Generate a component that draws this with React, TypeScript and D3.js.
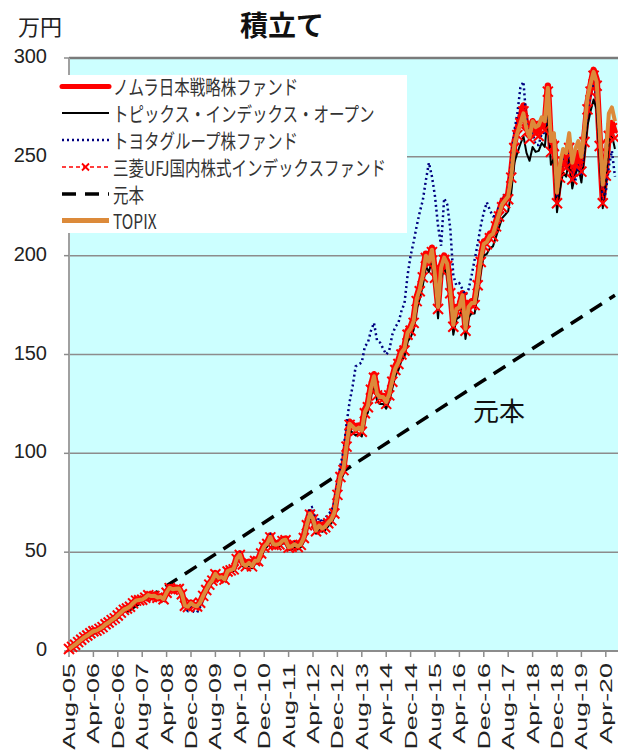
import React from "react";
import * as d3 from "d3";

// Monthly accumulated value (万円) of a 1万円/month plan, Aug-05 .. Jul-20
const tickLabels = [
  "Aug-05", "Apr-06", "Dec-06", "Aug-07", "Apr-08", "Dec-08", "Aug-09", "Apr-10",
  "Dec-10", "Aug-11", "Apr-12", "Dec-12", "Aug-13", "Apr-14", "Dec-14", "Aug-15",
  "Apr-16", "Dec-16", "Aug-17", "Apr-18", "Dec-18", "Aug-19", "Apr-20",
];
const tickStep = 8; // months between axis labels
const yTicks = [0, 50, 100, 150, 200, 250, 300];

const nomura = [
  1.0, 2.1, 3.2, 4.5, 5.8, 7.0, 7.9, 9.1, 10.1, 10.4,
  11.3, 12.2, 13.6, 14.5, 15.8, 16.7, 18.2, 19.7, 21.1, 21.8,
  22.7, 24.4, 25.9, 26.1, 26.2, 27.2, 28.5, 28.0, 28.1, 27.2,
  27.6, 26.5, 29.8, 32.3, 31.4, 31.7, 31.8, 29.0, 23.2, 22.6,
  24.4, 23.2, 22.8, 24.7, 28.3, 31.3, 34.1, 36.1, 39.4, 37.4,
  37.8, 36.7, 40.8, 41.4, 42.0, 47.3, 49.4, 44.5, 43.6, 45.1,
  43.5, 46.2, 46.1, 50.1, 53.4, 55.0, 58.4, 54.6, 54.4, 54.8,
  56.5, 56.9, 53.2, 53.6, 54.6, 53.5, 54.6, 58.1, 64.7, 70.2,
  67.7, 61.6, 64.2, 62.7, 63.7, 65.7, 67.2, 70.8, 80.3, 89.4,
  93.0, 105.0, 116.0, 114.5, 113.0, 114.0, 112.5, 122.0, 125.0, 134.0,
  140.0, 131.0, 129.5, 129.0, 126.5, 131.0, 138.0, 144.0, 147.0, 152.0,
  154.0, 162.0, 164.0, 168.0, 179.0, 184.0, 191.0, 201.0, 198.0, 204.0,
  191.0, 175.0, 195.0, 200.0, 197.0, 183.0, 165.5, 174.0, 174.5, 181.0,
  163.5, 175.0, 177.0, 177.0, 187.0, 199.0, 207.0, 208.0, 211.0, 212.0,
  217.0, 222.0, 227.0, 229.0, 231.0, 242.0, 257.0, 264.0, 270.0, 276.0,
  265.0, 262.0, 268.0, 264.0, 263.0, 268.0, 266.0, 286.0, 255.0, 258.0,
  229.0, 242.0, 250.0, 247.0, 257.0, 241.0, 249.0, 252.0, 245.0, 260.0,
  277.0, 286.0, 294.0, 289.0, 258.0, 229.0, 243.0, 263.0, 267.0, 262.0,
];

const topixOpen = [
  1.0, 2.1, 3.2, 4.4, 5.6, 6.8, 7.7, 8.9, 9.8, 10.1,
  11.0, 11.9, 13.3, 14.2, 15.4, 16.3, 17.8, 19.2, 20.5, 21.2,
  22.1, 23.8, 25.1, 25.3, 25.5, 26.5, 27.7, 27.2, 27.3, 26.4,
  26.8, 25.7, 29.0, 31.3, 30.5, 30.8, 30.9, 28.1, 22.4, 21.8,
  23.6, 22.4, 22.0, 23.9, 27.3, 30.2, 33.0, 34.9, 38.0, 36.0,
  36.4, 35.3, 39.3, 39.9, 40.5, 45.5, 47.5, 42.8, 41.9, 43.4,
  41.8, 44.4, 44.3, 48.1, 51.3, 52.9, 56.2, 52.5, 52.3, 52.7,
  54.3, 54.7, 51.1, 51.5, 52.5, 51.4, 52.5, 55.9, 62.2, 67.6,
  65.1, 59.3, 61.7, 60.3, 61.2, 63.2, 64.6, 68.0, 77.3, 86.1,
  89.5, 101.2, 111.9, 110.4, 109.0, 110.0, 108.5, 117.8, 120.7, 129.5,
  135.3, 126.5, 125.0, 125.0, 122.6, 126.5, 133.3, 139.2, 142.1, 147.0,
  148.9, 156.7, 158.6, 162.5, 173.2, 178.1, 184.9, 194.6, 191.7, 197.5,
  184.9, 168.3, 188.5, 193.4, 190.6, 176.8, 160.0, 167.9, 168.9, 174.8,
  157.9, 168.8, 170.8, 170.8, 180.5, 192.2, 200.0, 200.9, 203.8, 204.7,
  209.5, 214.3, 219.0, 220.7, 222.5, 232.0, 247.0, 252.0, 256.5, 260.5,
  252.0, 248.0, 255.0, 252.5, 253.0, 257.0, 255.0, 271.0, 246.0, 249.0,
  222.0, 234.0, 242.0, 240.0, 249.0, 234.0, 241.0, 245.0, 237.0, 251.0,
  266.0, 273.0, 279.0, 274.0, 249.0, 224.0, 237.0, 258.0, 261.0, 254.0,
];

const toyota = [
  1.0, 2.1, 3.3, 4.6, 5.8, 7.0, 7.8, 9.1, 10.1, 10.2,
  11.1, 12.0, 13.4, 14.2, 15.5, 16.5, 18.0, 19.4, 20.8, 21.4,
  22.4, 24.1, 25.7, 25.9, 26.0, 27.1, 28.6, 27.9, 27.6, 26.5,
  26.9, 25.8, 29.0, 31.6, 30.6, 30.9, 31.0, 27.8, 21.5, 20.2,
  22.0, 19.8, 19.5, 22.3, 26.6, 30.0, 33.0, 35.2, 38.5, 36.6,
  37.0, 36.0, 40.1, 40.9, 41.5, 47.0, 49.2, 44.1, 43.0, 44.2,
  42.6, 45.4, 45.5, 49.6, 53.0, 54.8, 58.5, 54.4, 53.7, 54.6,
  56.5, 57.2, 53.2, 53.6, 54.8, 53.7, 55.1, 58.6, 66.0, 72.5,
  73.0, 64.0, 67.5, 65.0, 67.0, 69.5, 70.5, 75.0, 84.0, 94.0,
  101.0, 115.0, 126.0, 134.0, 144.0, 145.0, 146.0, 154.0, 156.0, 162.0,
  166.0, 157.0, 156.0, 153.0, 150.0, 152.0, 160.0, 164.0, 166.0, 172.0,
  176.0, 190.0, 200.0, 207.0, 215.0, 222.0, 228.0, 238.0, 247.0, 240.0,
  230.0, 215.0, 205.0, 229.0, 226.0, 214.0, 190.0, 185.0, 186.0, 183.0,
  180.0, 183.0, 190.0, 198.0, 206.0, 215.0, 222.0, 227.0, 223.0, 220.0,
  220.0, 225.0, 230.0, 231.0, 232.0, 246.0, 263.0, 272.0, 285.0, 288.0,
  268.0, 258.0, 262.0, 256.0, 256.0, 262.0, 262.0, 278.0, 252.0, 256.0,
  230.0, 243.0, 248.0, 244.0, 252.0, 240.0, 238.0, 246.0, 241.0, 258.0,
  273.0, 282.0, 288.0, 280.0, 255.0, 228.0, 232.0, 245.0, 253.0, 240.0,
];

const mufg = [
  1.0, 2.1, 3.2, 4.5, 5.7, 6.9, 7.8, 9.0, 10.0, 10.3,
  11.2, 12.1, 13.5, 14.4, 15.6, 16.5, 18.0, 19.4, 20.8, 21.5,
  22.4, 24.1, 25.5, 25.7, 25.9, 26.9, 28.2, 27.7, 27.8, 26.9,
  27.3, 26.2, 29.5, 31.8, 31.0, 31.3, 31.4, 28.7, 22.9, 22.3,
  24.1, 22.9, 22.5, 24.4, 27.9, 30.9, 33.6, 35.6, 38.8, 36.8,
  37.2, 36.1, 40.2, 40.8, 41.3, 46.5, 48.6, 43.8, 42.9, 44.4,
  42.8, 45.5, 45.4, 49.3, 52.5, 54.1, 57.5, 53.7, 53.5, 53.9,
  55.6, 56.0, 52.3, 52.7, 53.7, 52.6, 53.7, 57.2, 63.6, 69.0,
  66.6, 60.6, 63.1, 61.6, 62.6, 64.6, 66.1, 69.6, 79.0, 88.0,
  91.5, 103.4, 114.4, 112.9, 111.4, 112.4, 110.9, 120.3, 123.3, 132.2,
  138.2, 129.3, 127.8, 127.5, 125.0, 129.3, 136.2, 142.2, 145.2, 150.0,
  152.0, 160.0, 162.0, 166.0, 177.0, 182.0, 189.0, 198.8, 195.8, 201.8,
  188.8, 173.0, 192.8, 197.8, 194.8, 181.0, 164.0, 172.0, 172.8, 179.0,
  162.0, 173.0, 175.0, 175.0, 185.0, 196.8, 204.8, 205.8, 208.8, 209.8,
  214.8, 219.8, 224.5, 226.5, 228.5, 239.5, 254.5, 261.0, 267.0, 273.0,
  262.5, 259.0, 265.5, 261.5, 260.5, 265.5, 263.5, 283.0, 252.5, 255.5,
  226.5, 239.5, 247.5, 244.5, 254.5, 238.5, 246.5, 249.5, 242.5, 257.5,
  274.0, 283.0, 291.0, 286.0, 255.5, 226.5, 240.5, 260.5, 264.5, 259.5,
];

// 元本: straight line from the first to the last monthly contribution
const principalIndex = [0, 179];
const principalValues = [1, 180];

const topix = [
  1.0, 2.1, 3.2, 4.5, 5.7, 6.9, 7.8, 9.0, 10.0, 10.3,
  11.2, 12.1, 13.5, 14.4, 15.7, 16.6, 18.1, 19.5, 20.9, 21.6,
  22.5, 24.2, 25.6, 25.8, 26.0, 27.0, 28.3, 27.8, 27.9, 27.0,
  27.4, 26.3, 29.6, 32.0, 31.2, 31.5, 31.6, 28.8, 23.0, 22.4,
  24.2, 23.0, 22.6, 24.5, 28.0, 31.0, 33.8, 35.8, 39.0, 37.0,
  37.4, 36.3, 40.4, 41.0, 41.6, 46.8, 48.8, 44.0, 43.1, 44.6,
  43.0, 45.7, 45.6, 49.5, 52.8, 54.4, 57.8, 54.0, 53.8, 54.2,
  55.9, 56.3, 52.6, 53.0, 54.0, 52.9, 54.0, 57.5, 64.0, 69.5,
  67.0, 61.0, 63.5, 62.0, 63.0, 65.0, 66.5, 70.0, 79.5, 88.5,
  92.0, 104.0, 115.0, 113.5, 112.0, 113.0, 111.5, 121.0, 124.0, 133.0,
  139.0, 130.0, 128.5, 128.5, 126.0, 130.0, 137.0, 143.0, 146.0, 151.0,
  153.0, 161.0, 163.0, 167.0, 178.0, 183.0, 190.0, 200.0, 197.0, 203.0,
  190.0, 174.0, 194.0, 199.0, 196.0, 182.0, 165.0, 173.0, 174.0, 180.0,
  163.0, 174.0, 176.0, 176.0, 186.0, 198.0, 206.0, 207.0, 210.0, 211.0,
  216.0, 221.0, 226.0, 228.0, 230.0, 240.0, 256.0, 262.0, 267.0, 272.0,
  264.0, 260.0, 268.0, 265.0, 266.0, 270.0, 268.0, 285.0, 258.0, 262.0,
  232.0, 246.0, 254.0, 252.0, 262.0, 247.0, 254.0, 258.0, 250.0, 264.0,
  280.0, 287.0, 293.0, 288.0, 262.0, 236.0, 250.0, 272.0, 275.0, 268.0,
];

const RED = "#ff0000";
const NAVY = "#000080";
const ORANGE = "#dc8a3a";
const LATIN = "'Liberation Sans', Arial, 'Noto Sans CJK JP', sans-serif";
const CJK = "'Noto Sans CJK JP', 'Liberation Sans', sans-serif";

const legendItems = [
  "ノムラ日本戦略株ファンド",
  "トピックス・インデックス・オープン",
  "トヨタグループ株ファンド",
  "三菱UFJ国内株式インデックスファンド",
  "元本",
  "TOPIX",
];

const crossPath = (s: number) => `M${-s},${-s}L${s},${s}M${-s},${s}L${s},${-s}`;

export default function App() {
  const W = 618;
  const H = 752;
  const x = d3.scaleLinear().domain([0, 180]).range([69, 618]);
  const y = d3.scaleLinear().domain([0, 300]).range([651, 58]);
  const plotL = x(0);
  const plotT = y(300);
  const plotB = y(0);

  const line = d3
    .line<number>()
    .x((_, i) => x(i))
    .y((v) => y(v))
    .curve(d3.curveLinear);
  const path = (vals: number[]) => line(vals) ?? "";

  const principalPath =
    d3
      .line<number>()
      .x((_, i) => x(principalIndex[i]))
      .y((v) => y(v))(principalValues) ?? "";

  const legendX0 = 62;
  const legendX1 = 109;
  const legendRows = [86.5, 113, 140, 167, 194, 220.5];

  return (
    <div style={{ position: "absolute", left: 0, top: 0 }}>
      <svg width={W} height={H} style={{ display: "block", background: "#ffffff" }}>
        <rect x={0} y={0} width={W} height={H} fill="#ffffff" />
        <rect x={plotL} y={plotT} width={W - plotL} height={plotB - plotT} fill="#ccffff" />

        {/* horizontal gridlines */}
        {yTicks
          .filter((t) => t > 0 && t < 300)
          .map((t) => (
            <line key={t} x1={plotL} x2={W} y1={y(t)} y2={y(t)} stroke="#8c8c8c" strokeWidth={1.5} />
          ))}
        <line x1={plotL} x2={W} y1={y(300)} y2={y(300)} stroke="#7a7a7a" strokeWidth={2.5} />

        {/* axes */}
        <line x1={plotL} x2={plotL} y1={plotT} y2={plotB} stroke="#a0a0a0" strokeWidth={2} />
        <line x1={plotL} x2={W} y1={plotB} y2={plotB} stroke="#8c8c8c" strokeWidth={2} />
        {yTicks.map((t) => (
          <g key={t}>
            <line x1={plotL - 5} x2={plotL} y1={y(t)} y2={y(t)} stroke="#8c8c8c" strokeWidth={1.5} />
            <text
              x={47}
              y={y(t) + 5}
              textAnchor="end"
              fontSize={20}
              fontFamily={LATIN}
              fill="#222"
            >
              {t}
            </text>
          </g>
        ))}
        {tickLabels.map((lab, k) => {
          const xi = x(k * tickStep);
          return (
            <g key={lab}>
              <line x1={xi} x2={xi} y1={plotB} y2={plotB + 6} stroke="#8c8c8c" strokeWidth={1.5} />
              <text
                transform={`translate(${xi + 6},${plotB + 12}) rotate(-90) scale(1.68,1)`}
                textAnchor="end"
                fontSize={16}
                fontFamily={LATIN}
                fill="#222"
              >
                {lab}
              </text>
            </g>
          );
        })}

        {/* series */}
        <path d={principalPath} fill="none" stroke="#000" strokeWidth={3.5} strokeDasharray="14 9" />
        <path d={path(nomura)} fill="none" stroke={RED} strokeWidth={6.5} strokeLinejoin="round" />
        <path d={path(topixOpen)} fill="none" stroke="#000" strokeWidth={2} strokeLinejoin="round" />
        <path d={path(toyota)} fill="none" stroke={NAVY} strokeWidth={2.5} strokeDasharray="2 3" />
        <path d={path(mufg)} fill="none" stroke={RED} strokeWidth={1.5} strokeDasharray="4 3" />
        {mufg.map((v, i) => (
          <path
            key={i}
            d={crossPath(5)}
            transform={`translate(${x(i)},${y(v)})`}
            stroke={RED}
            strokeWidth={2}
            fill="none"
          />
        ))}
        <path d={path(topix)} fill="none" stroke={ORANGE} strokeWidth={4} strokeLinejoin="round" />

        {/* 元本 annotation */}
        <text x={x(141)} y={y(122)} textAnchor="middle" dominantBaseline="central" fontSize={26} fontFamily={CJK} fill="#111">
          元本
        </text>

        {/* legend */}
        <rect x={58} y={75} width={349} height={158} fill="#ffffff" />
        <line x1={legendX0} x2={legendX1} y1={legendRows[0]} y2={legendRows[0]} stroke={RED} strokeWidth={5} strokeLinecap="round" />
        <line x1={legendX0} x2={legendX1} y1={legendRows[1]} y2={legendRows[1]} stroke="#000" strokeWidth={2} />
        <line x1={legendX0} x2={legendX1} y1={legendRows[2]} y2={legendRows[2]} stroke={NAVY} strokeWidth={2.5} strokeDasharray="2 3" />
        <line x1={legendX0} x2={legendX1} y1={legendRows[3]} y2={legendRows[3]} stroke={RED} strokeWidth={1.5} strokeDasharray="4 3" />
        <path d={crossPath(3.5)} transform={`translate(${(legendX0 + legendX1) / 2},${legendRows[3]})`} stroke={RED} strokeWidth={1.8} fill="none" />
        <line x1={legendX0} x2={legendX1} y1={legendRows[4]} y2={legendRows[4]} stroke="#000" strokeWidth={3.5} strokeDasharray="14 9" />
        <line x1={legendX0} x2={legendX1} y1={legendRows[5]} y2={legendRows[5]} stroke={ORANGE} strokeWidth={5} />
        {legendItems.map((lab, k) => (
          <text
            key={lab}
            transform={`translate(113,${legendRows[k]}) scale(1,1.3)`}
            dominantBaseline="central"
            fontSize={15.5}
            fontFamily={CJK}
            fill="#333"
          >
            {lab}
          </text>
        ))}

        {/* titles */}
        <text x={282} y={36} textAnchor="middle" fontSize={28} fontWeight="bold" fontFamily={CJK} fill="#111">
          積立て
        </text>
        <text x={40} y={35} textAnchor="middle" fontSize={22} fontFamily={CJK} fill="#222">
          万円
        </text>
      </svg>
    </div>
  );
}
